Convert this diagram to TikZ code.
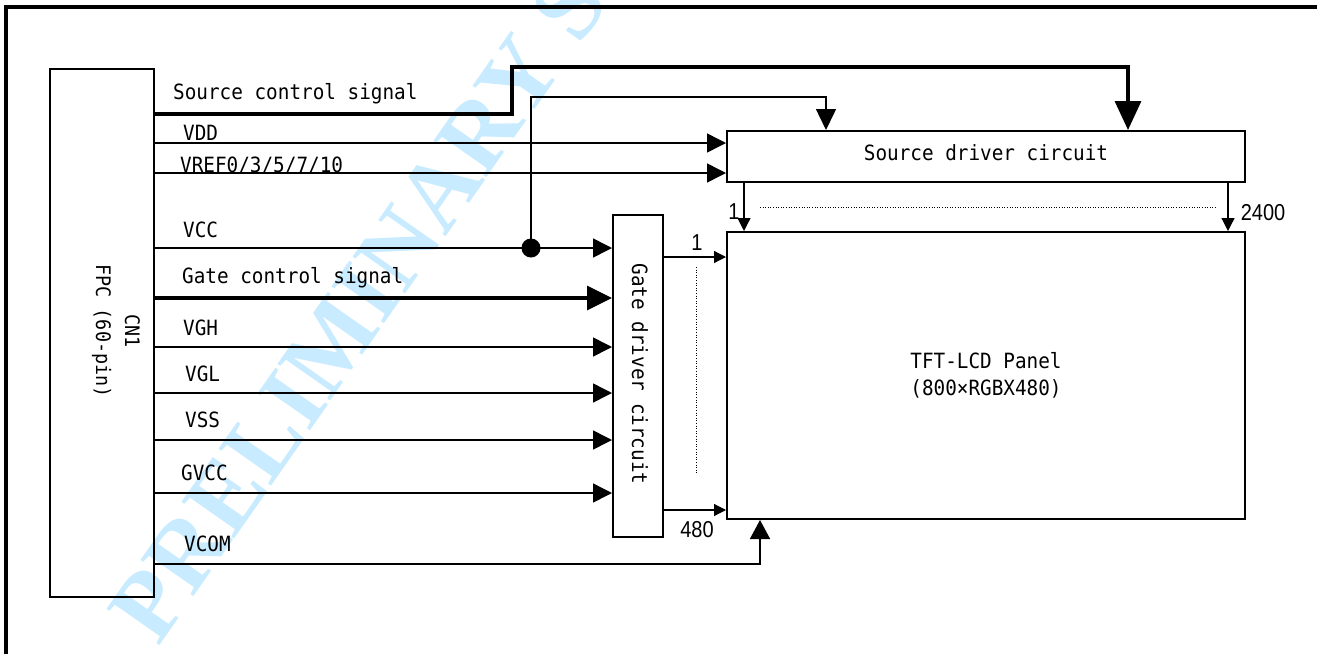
\documentclass[tikz,border=0pt]{standalone}
\usepackage{fontspec}
\setmainfont{Liberation Sans}
\newfontfamily\monof[FakeStretch=0.92]{DejaVu Sans Mono}
\newfontfamily\narrowf[FakeStretch=0.87]{Liberation Sans}
\newfontfamily\wmf{Liberation Serif}
\usetikzlibrary{arrows.meta}
\definecolor{wmblue}{RGB}{200,235,255}
\tikzset{
  box/.style={draw, line width=2pt, inner sep=0pt},
  thinln/.style={line width=1.5pt},
  thickln/.style={line width=3.4pt},
  bigarrow/.style={thinln, -{Triangle[length=19pt,width=19pt]}},
  smallarrow/.style={line width=1.2pt, -{Triangle[length=12pt,width=12pt]}},
  lbl/.style={anchor=base west, inner sep=0pt, font=\monof\fontsize{21}{25}\selectfont},
  numlbl/.style={inner sep=0pt, font=\narrowf\fontsize{23}{26}\selectfont},
  dotln/.style={line width=1pt, dash pattern=on 1pt off 1.6pt},
  wm/.style={inner sep=0pt, text=wmblue, font=\wmf\bfseries\fontsize{98}{110}\selectfont}
}
\begin{document}
\begin{tikzpicture}[x=1pt,y=-1pt]
\useasboundingbox (0,0) rectangle (1317,654);
% watermark
\node[wm, rotate=55, anchor=base west] (wmark) at (158,648) {PRELIMINARY S};
% frame
\draw[line width=3.3pt] (1317,7) -- (6,7) -- (6,654);
% blocks
\node[box, minimum width=104pt, minimum height=528pt] (fpc) at (102,333) {};
\node[inner sep=0pt, rotate=-90, align=center, font=\monof\fontsize{20}{29}\selectfont] (fpclbl) at (116,331) {CN1\\FPC (60-pin)};
\node[box, minimum width=518pt, minimum height=51pt] (src) at (986,156.5) {};
\node[anchor=base, inner sep=0pt, font=\monof\fontsize{21}{25}\selectfont] (srclbl) at (986,160) {Source driver circuit};
\node[box, minimum width=518pt, minimum height=287pt, align=center, font=\monof\fontsize{21}{27}\selectfont] (tft) at (986,375.5) {TFT-LCD Panel\\(800×RGBX480)};
\node[box, minimum width=50pt, minimum height=322pt] (gate) at (638,376) {};
\node[inner sep=0pt, rotate=-90, font=\monof\fontsize{21}{25}\selectfont] (gatelbl) at (640,374) {Gate driver circuit};
% row levels
\coordinate (rS) at (0,114);
\coordinate (rVDD) at (0,143);
\coordinate (rVREF) at (0,173);
\coordinate (rVCC) at (0,248);
\coordinate (rGC) at (0,298);
\coordinate (rVGH) at (0,347);
\coordinate (rVGL) at (0,393);
\coordinate (rVSS) at (0,440);
\coordinate (rGVCC) at (0,493);
\coordinate (rVCOM) at (0,564);
% source control signal
\coordinate (sc1) at (512,67);
\coordinate (sc2) at (1128,67);
\draw[thickln, -{Triangle[length=29pt,width=26pt]}] (fpc.east |- rS) -| (sc1) -- (sc2) -- (sc2 |- src.north);
\node[lbl] (lS) at (173,99) {Source control signal};
% VDD, VREF
\draw[bigarrow] (fpc.east |- rVDD) -- (src.west |- rVDD);
\node[lbl] (lVDD) at (183,140) {VDD};
\draw[bigarrow] (fpc.east |- rVREF) -- (src.west |- rVREF);
\node[lbl] (lVREF) at (180,172) {VREF0/3/5/7/10};
% VCC
\coordinate (dot) at (531,248);
\coordinate (vc1) at (531,97);
\coordinate (vc2) at (826,97);
\draw[bigarrow] (fpc.east |- rVCC) -- (gate.west |- rVCC);
\fill (dot) circle (9.5);
\draw[thinln, -{Triangle[length=21pt,width=20pt]}] (dot) -- (vc1) -- (vc2) -- (vc2 |- src.north);
\node[lbl] (lVCC) at (183,237) {VCC};
% gate control
\draw[line width=3.2pt, -{Triangle[length=25pt,width=24pt]}] (fpc.east |- rGC) -- (gate.west |- rGC);
\node[lbl] (lGC) at (182,283) {Gate control signal};
% gate supplies
\draw[bigarrow] (fpc.east |- rVGH) -- (gate.west |- rVGH);
\node[lbl] (lVGH) at (183,335) {VGH};
\draw[bigarrow] (fpc.east |- rVGL) -- (gate.west |- rVGL);
\node[lbl] (lVGL) at (185,381) {VGL};
\draw[bigarrow] (fpc.east |- rVSS) -- (gate.west |- rVSS);
\node[lbl] (lVSS) at (185,427) {VSS};
\draw[bigarrow] (fpc.east |- rGVCC) -- (gate.west |- rGVCC);
\node[lbl] (lGVCC) at (181,480) {GVCC};
% VCOM
\coordinate (vcm) at (760,564);
\draw[thinln, -{Triangle[length=19pt,width=20pt]}] (fpc.east |- rVCOM) -- (vcm) -- (vcm |- tft.south);
\node[lbl] (lVCOM) at (184,551) {VCOM};
% gate outputs
\coordinate (g1) at (0,257);
\coordinate (g480) at (0,510);
\draw[smallarrow] (gate.east |- g1) -- (tft.west |- g1);
\draw[smallarrow] (gate.east |- g480) -- (tft.west |- g480);
\coordinate (gd1) at (696,267);
\coordinate (gd2) at (696,475);
\draw[dotln] (gd1) -- (gd2);
\node[numlbl] (n1g) at (697,243) {1};
\node[numlbl] (n480) at (697,530) {480};
% source outputs
\coordinate (s1) at (744,0);
\coordinate (s2400) at (1228,0);
\draw[smallarrow, -{Triangle[length=13pt,width=13pt]}] (src.south -| s1) -- (tft.north -| s1);
\draw[smallarrow, -{Triangle[length=13pt,width=13pt]}] (src.south -| s2400) -- (tft.north -| s2400);
\coordinate (sd1) at (760,207);
\coordinate (sd2) at (1217,207);
\draw[dotln] (sd1) -- (sd2);
\node[numlbl] (n1s) at (734,212) {1};
\node[numlbl] (n2400) at (1263,213) {2400};
\end{tikzpicture}
\end{document}
